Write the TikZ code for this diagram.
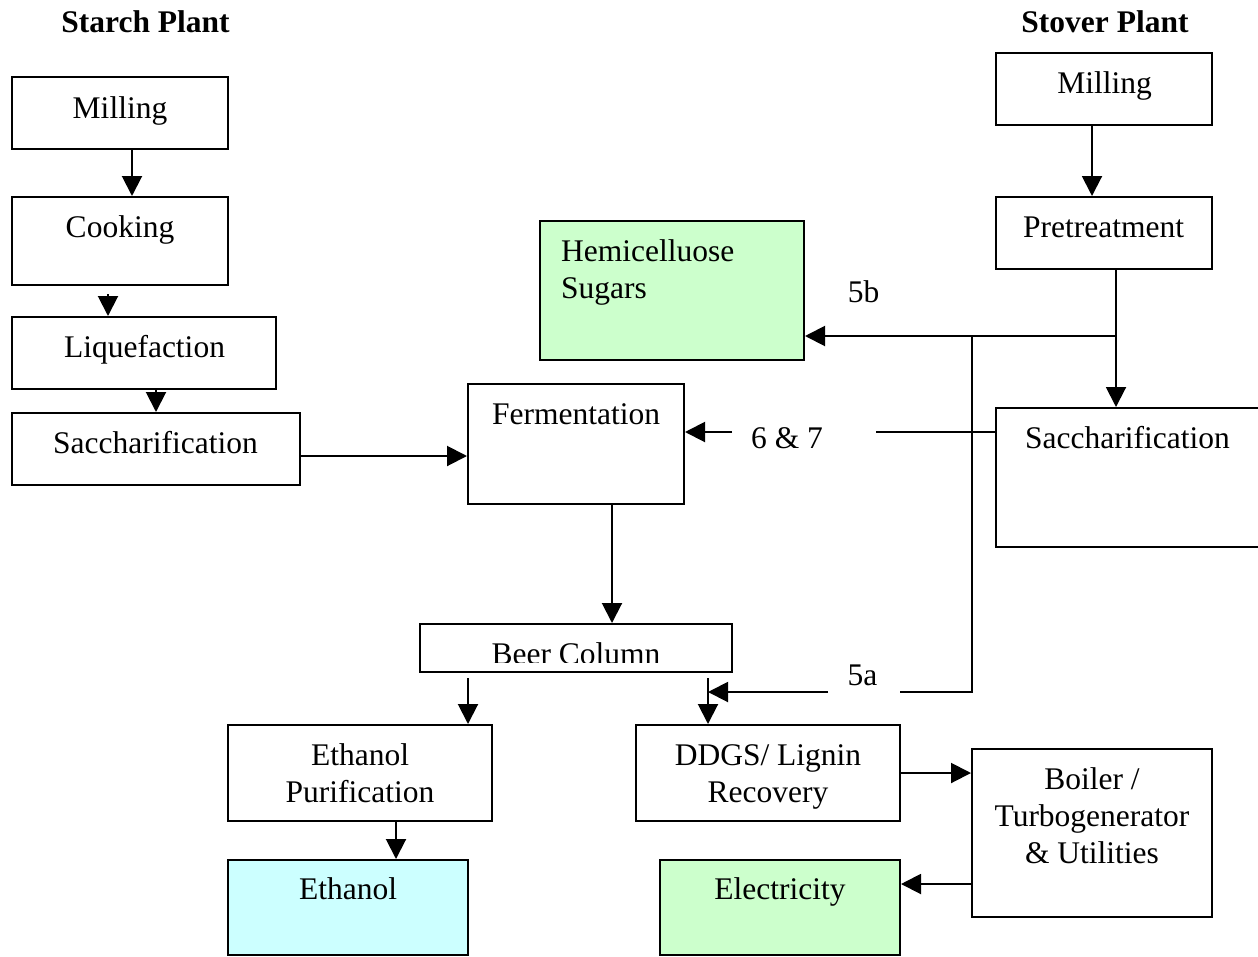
\documentclass[tikz,border=0pt]{standalone}
\usepackage{fontspec}
\setmainfont{Liberation Serif}
\usetikzlibrary{arrows.meta,fit}
\definecolor{hemig}{HTML}{CCFFCC}
\definecolor{ethc}{HTML}{CCFFFF}
\begin{document}
\begin{tikzpicture}[x=1pt,y=-1pt,
  box/.style={draw,line width=2pt,inner sep=0pt},
  txt/.style={anchor=base,inner sep=0pt,font=\fontsize{31.5}{37}\selectfont},
  head/.style={anchor=base,inner sep=0pt,font=\bfseries\fontsize{31.5}{37}\selectfont},
  arr/.style={line width=2pt,-{Triangle[length=20pt,width=20pt]}},
  ln/.style={line width=2pt}]
\useasboundingbox (0,0) rectangle (1258,956);
% headings
\node[head] (hstarch) at (145.5,32) {Starch Plant};
\node[head] (hstover) at (1105,32) {Stover Plant};
% boxes
\node[box,fit={(12,77)(228,149)}] (smill) {};
\node[box,fit={(12,197)(228,285)}] (scook) {};
\node[box,fit={(12,317)(276,389)}] (sliq) {};
\node[box,fit={(12,413)(300,485)}] (ssac) {};
\node[box,fit={(468,384)(684,504)}] (ferm) {};
\node[box,fill=hemig,fit={(540,221)(804,360)}] (hemi) {};
\node[box,fit={(996,53)(1212,125)}] (vmill) {};
\node[box,fit={(996,197)(1212,269)}] (vpre) {};
\node[box,fit={(996,408)(1260,547)}] (vsac) {};
\node[box,fit={(420,624)(732,672)}] (beer) {};
\node[box,fit={(228,725)(492,821)}] (epur) {};
\node[box,fill=ethc,fit={(228,860)(468,955)}] (eth) {};
\node[box,fit={(636,725)(900,821)}] (ddgs) {};
\node[box,fill=hemig,fit={(660,860)(900,955)}] (elec) {};
\node[box,fit={(972,749)(1212,917)}] (boil) {};
% texts
\node[txt] (smillt) at (120,118) {Milling};
\node[txt] (scookt) at (120,237) {Cooking};
\node[txt] (sliqt) at (144.5,357) {Liquefaction};
\node[txt] (ssact) at (155.5,453) {Saccharification};
\node[txt] (fermt) at (576,424) {Fermentation};
\node[txt,anchor=base west] (hemit1) at (561,261) {Hemicelluose};
\node[txt,anchor=base west] (hemit2) at (561,298) {Sugars};
\node[txt] (vmillt) at (1104.5,93) {Milling};
\node[txt] (vpret) at (1103.5,237) {Pretreatment};
\node[txt] (vsact) at (1127.5,448) {Saccharification};
\begin{scope}
\clip (420,624) rectangle (732,662);
\node[txt] (beert) at (576,664) {Beer Column};
\end{scope}
\node[txt] (epurt1) at (360,765) {Ethanol};
\node[txt] (epurt2) at (360,802) {Purification};
\node[txt] (etht) at (348,899) {Ethanol};
\node[txt] (ddgst1) at (768,765) {DDGS/ Lignin};
\node[txt] (ddgst2) at (768,802) {Recovery};
\node[txt] (elect) at (780,899) {Electricity};
\node[txt] (boilt1) at (1092,789) {Boiler /};
\node[txt] (boilt2) at (1092,826) {Turbogenerator};
\node[txt] (boilt3) at (1092,863) {\& Utilities};
% labels
\node[txt] (l5b) at (863.5,302) {5b};
\node[txt] (l67) at (787,448) {6 \& 7};
\node[txt] (l5a) at (862.5,685) {5a};
% starch connectors
\draw[arr] ([xshift=12pt]smill.south) -- ([xshift=12pt]scook.north);
\draw[arr] ([xshift=-12pt,yshift=-8pt]scook.south) -- ([xshift=-36pt]sliq.north);
\draw[arr] ([xshift=12pt]sliq.south) -- (ssac.north);
\draw[arr] ([yshift=-7pt]ssac.east) -- ([yshift=-12pt]ferm.west);
\draw[arr] ([xshift=36pt]ferm.south) -- ([xshift=36pt]beer.north);
\draw[arr] ([xshift=-108pt,yshift=-5pt]beer.south) -- ([xshift=108pt]epur.north);
\draw[arr] ([xshift=132pt,yshift=-5pt]beer.south) -- ([xshift=-60pt]ddgs.north);
\draw[arr] ([xshift=36pt]epur.south) -- ([xshift=48pt]eth.north);
\draw[arr] (ddgs.east) -- ([yshift=60pt]boil.west);
\draw[arr] ([yshift=-51pt]boil.west) -- ([yshift=23.5pt]elec.east);
% stover connectors
\draw[arr] ([xshift=-12pt]vmill.south) -- ([xshift=-12pt]vpre.north);
\draw[arr] ([xshift=12pt]vpre.south) -- ([xshift=-12pt]vsac.north);
\coordinate (j5b) at (1116,336);
\coordinate (j5a) at (972,336);
\draw[arr] (j5b) -- (hemi.east |- j5b);
\coordinate (e5a) at (900,692);
\coordinate (s5a) at (828,692);
\coordinate (t5a) at (708,692);
\draw[ln] (j5a) |- (e5a);
\draw[arr] (s5a) -- (t5a);
\coordinate (s67) at (876,432);
\coordinate (e67) at (732,432);
\draw[ln] (vsac.west |- s67) -- (s67);
\draw[arr] (e67) -- (ferm.east |- e67);
\end{tikzpicture}
\end{document}
